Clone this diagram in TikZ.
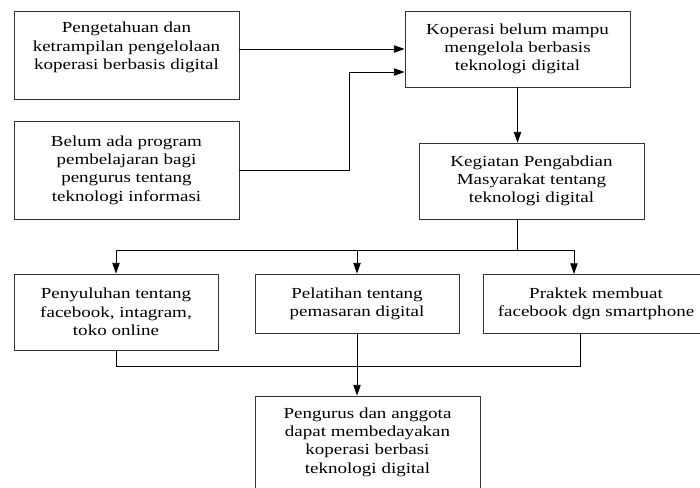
\documentclass[tikz,border=0pt]{standalone}
\usepackage{fontspec}
\setmainfont{Liberation Serif}[FakeStretch=1.24]
\usepackage{tikz}
\usetikzlibrary{arrows.meta}

\begin{document}
\begin{tikzpicture}[
			     x=0.75pt, y=-0.75pt,
			     box/.style={draw=black!80, line width=0.6pt, align=center, inner sep=2pt,
			                 font=\fontsize{11.5}{13.7}\selectfont},
			     normal line/.style={line width=0.6pt},
			     arr/.style={normal line, -{Triangle[length=8pt,width=5.5pt]}}
			     ]
\useasboundingbox (0,0) rectangle (700,487);
\clip (0,0) rectangle (700,487);
%
\node[box, minimum width=168.75pt, minimum height=66pt] (pengetahuan) at (126.5,55)
  {Pengetahuan dan\\ketrampilan pengelolaan\\koperasi berbasis digital\\ \mbox{}};
\node[box, minimum width=168.75pt, minimum height=73.5pt] (belum) at (126.5,170)
  {Belum ada program\\pembelajaran bagi\\pengurus tentang\\teknologi informasi};
\node[box, minimum width=168.75pt, minimum height=57pt] (koperasi) at (517.5,49)
  {Koperasi belum mampu\\mengelola berbasis\\teknologi digital};
\node[box, minimum width=168.75pt, minimum height=57pt] (kegiatan) at (531.5,181)
  {Kegiatan Pengabdian\\Masyarakat tentang\\teknologi digital};
\node[box, minimum width=153pt, minimum height=57pt] (penyuluhan) at (116,312)
  {Penyuluhan tentang\\facebook, intagram,\\toko online};
\node[box, minimum width=153pt, minimum height=44.25pt] (pelatihan) at (357,303.5)
  {Pelatihan tentang\\pemasaran digital};
\node[box, minimum width=169.5pt, minimum height=44.25pt] (praktek) at (596,303.5)
  {Praktek membuat\\facebook dgn smartphone};
\node[box, minimum width=168.75pt, minimum height=80.25pt] (pengurus) at (367.5,449.5)
  {Pengurus dan anggota\\dapat membedayakan\\koperasi berbasi\\teknologi digital\\ \mbox{}};
%
\coordinate (join) at (349,72);
\coordinate (split) at (517.5,250);
\coordinate (praktek in) at (574,274);
\coordinate (praktek out) at (580,333);
\coordinate (merge) at (359,366);
%
\draw[arr] (pengetahuan.east |- koperasi.west) -- (koperasi.west);
\draw[arr] (belum.east) -| (join) -- (koperasi.west |- join);
\draw[arr] (koperasi.south) -- (koperasi.south |- kegiatan.north);
\draw[normal line] (koperasi.south |- kegiatan.south) -- (split);
\draw[arr] (split) -| (penyuluhan.north);
\draw[arr] (split) -| (pelatihan.north);
\draw[arr] (split) -| (praktek in);
\draw[normal line] (penyuluhan.south) |- (merge);
\draw[normal line] (praktek out) |- (merge);
\draw[arr] (pelatihan.south) -- (pelatihan.south |- pengurus.north);
\end{tikzpicture}
\end{document}
